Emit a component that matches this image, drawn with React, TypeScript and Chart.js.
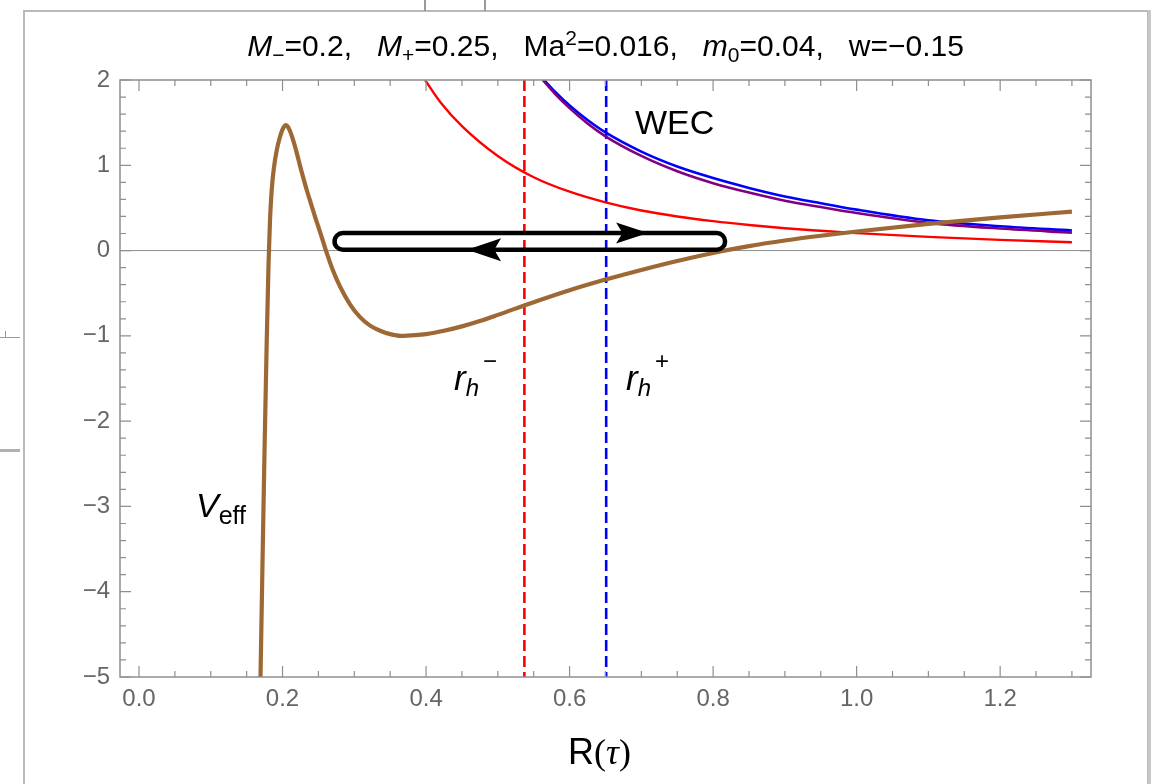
import React, { useEffect, useRef } from "react";
import { Chart, registerables } from "chart.js";

Chart.register(...registerables);

// ---------- data ----------
const veffR = [0.1693, 0.172, 0.175, 0.178, 0.1805, 0.1825, 0.185, 0.188, 0.192, 0.196, 0.2, 0.205, 0.21, 0.215, 0.22, 0.2245, 0.23, 0.2337, 0.24, 0.245, 0.252, 0.2605, 0.2706, 0.28, 0.294, 0.308, 0.322, 0.336, 0.35, 0.365, 0.385, 0.4, 0.425, 0.45, 0.475, 0.5, 0.55, 0.6, 0.65, 0.7, 0.75, 0.81, 0.85, 0.9, 0.95, 1.0, 1.1, 1.2, 1.3];
const veffV = [-5, -3.7, -2.3, -1.05, -0.15, 0.35, 0.72, 0.97, 1.18, 1.32, 1.42, 1.47, 1.41, 1.29, 1.14, 0.99, 0.82, 0.71, 0.54, 0.405, 0.225, 0.0, -0.24, -0.42, -0.63, -0.78, -0.88, -0.94, -0.98, -1.0, -0.992, -0.979, -0.94, -0.889, -0.826, -0.754, -0.605, -0.465, -0.34, -0.227, -0.122, -0.011, 0.052, 0.118, 0.174, 0.224, 0.312, 0.389, 0.457];

const redR = [0.3986, 0.42, 0.45, 0.5, 0.55, 0.6, 0.65, 0.7, 0.75, 0.8, 0.85, 0.9, 0.95, 1.0, 1.1, 1.2, 1.3];
const redV = [2.0, 1.74, 1.46, 1.11, 0.86, 0.69, 0.565, 0.47, 0.4, 0.345, 0.3, 0.262, 0.232, 0.205, 0.16, 0.125, 0.098];

const blueR = [0.5645, 0.58, 0.6, 0.625, 0.65, 0.7, 0.75, 0.8, 0.85, 0.9, 0.95, 1.0, 1.1, 1.2, 1.3];
const blueV = [2.0, 1.86, 1.7, 1.53, 1.385, 1.16, 0.985, 0.85, 0.735, 0.635, 0.555, 0.48, 0.355, 0.285, 0.235];

const purpleR = [0.5625, 0.58, 0.6, 0.625, 0.65, 0.7, 0.75, 0.8, 0.85, 0.9, 0.95, 1.0, 1.1, 1.2, 1.3];
const purpleV = [2.0, 1.835, 1.67, 1.49, 1.34, 1.11, 0.93, 0.79, 0.68, 0.585, 0.51, 0.44, 0.325, 0.258, 0.21];

const horizonMinusR = 0.537;
const horizonPlusR = 0.651;

const loopR = [0.2725, 0.8167];
const loopV = [0.01, 0.205];
const arrowTipR = [0.7094, 0.4571]; // top arrow (pointing right), bottom arrow (pointing left)

const xRange = [-0.0265, 1.3266];
const yRange = [-5, 2];
const xTicks = [0, 0.2, 0.4, 0.6, 0.8, 1.0, 1.2];
const yTicks = [-5, -4, -3, -2, -1, 0, 1, 2];
const xMinorStep = 0.05;
const yMinorStep = 0.2;

const FONT = "'Liberation Sans', Arial, Helvetica, sans-serif";
const SERIF = "'Liberation Serif', 'Times New Roman', serif";

const pts = (xs: number[], ys: number[]) => xs.map((x, i) => ({ x, y: ys[i] }));

const framePlugin = {
  id: "mmaFrame",
  beforeDatasetsDraw(chart: any) {
    const { ctx, chartArea: a, scales } = chart;
    const y0 = scales.y.getPixelForValue(0);
    ctx.save();
    ctx.strokeStyle = "#8c8c8c";
    ctx.lineWidth = 1;
    ctx.beginPath();
    ctx.moveTo(a.left, y0);
    ctx.lineTo(a.right, y0);
    ctx.stroke();
    ctx.restore();
  },
  afterDatasetsDraw(chart: any) {
    const { ctx, scales } = chart;
    const xs = scales.x, ys = scales.y;
    const l = xs.getPixelForValue(loopR[0]);
    const r = xs.getPixelForValue(loopR[1]);
    const yb = ys.getPixelForValue(loopV[0]);
    const yt = ys.getPixelForValue(loopV[1]);
    const rad = (yb - yt) / 2;
    const mid = (yb + yt) / 2;
    ctx.save();
    ctx.strokeStyle = "#000";
    ctx.lineWidth = 4.5;
    ctx.lineJoin = "round";
    ctx.beginPath();
    ctx.moveTo(l + rad, yt);
    ctx.lineTo(r - rad, yt);
    ctx.arc(r - rad, mid, rad, -Math.PI / 2, Math.PI / 2);
    ctx.lineTo(l + rad, yb);
    ctx.arc(l + rad, mid, rad, Math.PI / 2, (3 * Math.PI) / 2);
    ctx.closePath();
    ctx.stroke();
    const arrow = (tipX: number, yy: number, dir: number, len: number, hw: number) => {
      ctx.beginPath();
      ctx.moveTo(tipX, yy);
      ctx.lineTo(tipX - dir * len, yy - hw);
      ctx.lineTo(tipX - dir * len * 0.8, yy);
      ctx.lineTo(tipX - dir * len, yy + hw);
      ctx.closePath();
      ctx.fillStyle = "#000";
      ctx.fill();
    };
    arrow(xs.getPixelForValue(arrowTipR[0]), yt, 1, 32, 10.5);
    arrow(xs.getPixelForValue(arrowTipR[1]), yb, -1, 34, 11.5);
    ctx.restore();
  },
  afterDraw(chart: any) {
    const { ctx, chartArea: a, scales } = chart;
    const xs = scales.x, ys = scales.y;
    ctx.save();
    ctx.strokeStyle = "#8f8f8f";
    ctx.lineWidth = 1.5;
    ctx.strokeRect(a.left, a.top, a.right - a.left, a.bottom - a.top);
    ctx.lineWidth = 1.2;
    const major = 11, minor = 6;
    ctx.beginPath();
    const nX = Math.round(xRange[1] / xMinorStep);
    for (let i = 0; i <= nX; i++) {
      const v = i * xMinorStep;
      if (v > xRange[1]) break;
      const isMajor = xTicks.some((t) => Math.abs(t - v) < 1e-6);
      const len = isMajor ? major : minor;
      const px = xs.getPixelForValue(v);
      ctx.moveTo(px, a.bottom);
      ctx.lineTo(px, a.bottom - len);
      ctx.moveTo(px, a.top);
      ctx.lineTo(px, a.top + len);
    }
    const nY = Math.round((yRange[1] - yRange[0]) / yMinorStep);
    for (let i = 0; i <= nY; i++) {
      const v = yRange[0] + i * yMinorStep;
      const isMajor = yTicks.some((t) => Math.abs(t - v) < 1e-6);
      const len = isMajor ? major : minor;
      const py = ys.getPixelForValue(v);
      ctx.moveTo(a.left, py);
      ctx.lineTo(a.left + len, py);
      ctx.moveTo(a.right, py);
      ctx.lineTo(a.right - len, py);
    }
    ctx.stroke();
    ctx.restore();
  },
};

function Txt(props: { x: number; base: number; size: number; italic?: boolean; children: any }) {
  const { x, base, size, italic, children } = props;
  return (
    <div
      style={{
        position: "absolute",
        left: x,
        top: base - 0.3465 * size,
        fontFamily: FONT,
        fontSize: size,
        fontStyle: italic ? "italic" : "normal",
        lineHeight: 0,
        whiteSpace: "pre",
        color: "#000",
      }}
    >
      {children}
    </div>
  );
}

const Sub = (p: { dy: number; size: number; italic?: boolean; ml?: number; children: any }) => (
  <span
    style={{
      position: "relative",
      top: p.dy,
      marginLeft: p.ml || 0,
      fontSize: p.size,
      lineHeight: 0,
      fontStyle: p.italic ? "italic" : "normal",
    }}
  >
    {p.children}
  </span>
);

export default function App() {
  const ref = useRef<HTMLCanvasElement | null>(null);

  useEffect(() => {
    if (!ref.current) return;
    const line = (label: string, xs: number[], ys: number[], color: string, width: number, order: number) => ({
      label,
      data: pts(xs, ys),
      borderColor: color,
      borderWidth: width,
      pointRadius: 0,
      cubicInterpolationMode: "monotone",
      order,
    });
    const chart = new Chart(ref.current, {
      type: "line",
      data: {
        datasets: [
          line("Veff", veffR, veffV, "rgb(157,104,52)", 4.2, 0),
          line("purple", purpleR, purpleV, "rgb(128,0,128)", 2.6, 1),
          line("blue", blueR, blueV, "rgb(0,0,255)", 2.6, 2),
          line("red", redR, redV, "rgb(255,0,0)", 2.4, 3),
          {
            label: "rh-",
            data: [
              { x: horizonMinusR, y: yRange[1] },
              { x: horizonMinusR, y: yRange[0] },
            ],
            borderColor: "rgb(255,0,0)",
            borderWidth: 2.6,
            borderDash: [11, 5],
            pointRadius: 0,
            order: 4,
          },
          {
            label: "rh+",
            data: [
              { x: horizonPlusR, y: yRange[1] },
              { x: horizonPlusR, y: yRange[0] },
            ],
            borderColor: "rgb(0,0,255)",
            borderWidth: 2.6,
            borderDash: [11, 5],
            pointRadius: 0,
            order: 5,
          },
        ],
      },
      options: {
        animation: false,
        responsive: false,
        devicePixelRatio: 1,
        layout: { padding: { left: 0, right: 74, top: 80, bottom: 0 } },
        plugins: { legend: { display: false }, tooltip: { enabled: false }, title: { display: false } },
        elements: { line: { borderCapStyle: "butt", borderJoinStyle: "round" } },
        scales: {
          x: {
            type: "linear",
            min: xRange[0],
            max: xRange[1],
            grid: { display: false, drawTicks: false },
            border: { display: false },
            afterBuildTicks: (s: any) => {
              s.ticks = xTicks.map((v) => ({ value: v }));
            },
            afterFit: (s: any) => {
              s.height = 107;
            },
            ticks: {
              autoSkip: false,
              maxRotation: 0,
              padding: 8,
              color: "#666",
              font: { family: FONT, size: 24 },
              callback: (v: any) => Number(v).toFixed(1),
            },
          },
          y: {
            type: "linear",
            min: yRange[0],
            max: yRange[1],
            grid: { display: false, drawTicks: false },
            border: { display: false },
            afterBuildTicks: (s: any) => {
              s.ticks = yTicks.map((v) => ({ value: v }));
            },
            afterFit: (s: any) => {
              s.width = 120;
            },
            ticks: {
              autoSkip: false,
              padding: 10,
              color: "#666",
              font: { family: FONT, size: 24 },
              callback: (v: any) => (Number(v) < 0 ? "\u2212" + Math.abs(Number(v)) : String(v)),
            },
          },
        },
      },
      plugins: [framePlugin],
    } as any);
    return () => chart.destroy();
  }, []);

  return (
    <div style={{ position: "absolute", left: 0, top: 0, width: 1165, height: 784, background: "#fff", overflow: "hidden" }}>
      {/* screenshot frame remnants */}
      <div style={{ position: "absolute", left: 23, top: 10, width: 1126, height: 800, border: "2px solid #b9b9b9", boxSizing: "border-box" }} />
      <div style={{ position: "absolute", left: 1148, top: 10, width: 3, height: 800, background: "#c8c8c8" }} />
      <div style={{ position: "absolute", left: 424, top: 0, width: 1.5, height: 11, background: "#9a9a9a" }} />
      <div style={{ position: "absolute", left: 484, top: 0, width: 1.5, height: 11, background: "#9a9a9a" }} />
      <div style={{ position: "absolute", left: 0, top: 337, width: 20, height: 1, background: "#9a9a9a" }} />
      <div style={{ position: "absolute", left: 5, top: 331, width: 1, height: 6, background: "#9a9a9a" }} />
      <div style={{ position: "absolute", left: 0, top: 449, width: 20, height: 3, background: "#b0b0b0" }} />

      <canvas ref={ref} width={1165} height={784} style={{ position: "absolute", left: 0, top: 0 }} />

      {/* title */}
      <div
        style={{
          position: "absolute",
          left: 0,
          width: 1211,
          top: 56 - 0.3465 * 30,
          textAlign: "center",
          fontFamily: FONT,
          fontSize: 30,
          lineHeight: 0,
          whiteSpace: "pre",
          color: "#000",
        }}
      >
        <i>M</i>
        <Sub dy={6} size={21}>{"\u2212"}</Sub>
        {"=0.2,   "}
        <i>M</i>
        <Sub dy={6} size={21}>+</Sub>
        {"=0.25,   Ma"}
        <Sub dy={-11} size={21}>2</Sub>
        {"=0.016,   "}
        <i>m</i>
        <Sub dy={6} size={21}>0</Sub>
        {"=0.04,   w=\u22120.15"}
      </div>

      <Txt x={635} base={134} size={34}>WEC</Txt>

      <Txt x={454} base={390} size={35} italic>
        r<Sub dy={6} size={24} italic>h</Sub>
        <Sub dy={-21} size={24} ml={4}>{"\u2212"}</Sub>
      </Txt>

      <Txt x={626} base={390} size={35} italic>
        r<Sub dy={6} size={24} italic>h</Sub>
        <Sub dy={-21} size={24} ml={4}>+</Sub>
      </Txt>

      <Txt x={196} base={517} size={34} italic>
        V<Sub dy={7} size={25}>eff</Sub>
      </Txt>

      <div style={{ position: "absolute", left: 568, top: 764 - 0.3465 * 36, lineHeight: 0, whiteSpace: "pre", color: "#000" }}>
        <span style={{ fontFamily: FONT, fontSize: 36 }}>R</span>
        <span style={{ fontFamily: SERIF, fontSize: 36 }}>(</span>
        <span style={{ fontFamily: SERIF, fontSize: 36, fontStyle: "italic" }}>τ</span>
        <span style={{ fontFamily: SERIF, fontSize: 36 }}>)</span>
      </div>
    </div>
  );
}
